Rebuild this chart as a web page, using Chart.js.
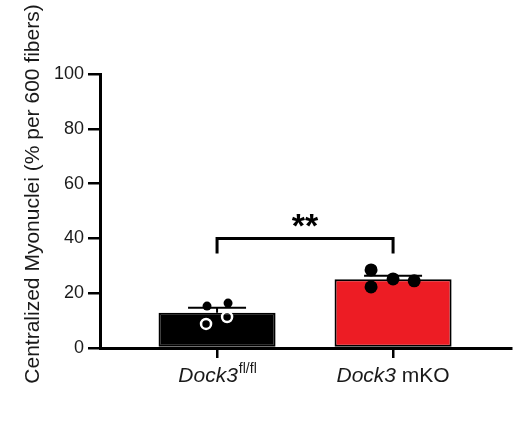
<!DOCTYPE html>
<html>
<head>
<meta charset="utf-8">
<script src="https://cdn.jsdelivr.net/npm/chart.js@4/dist/chart.umd.min.js"></script>
<style>
  body { margin: 0; background: #fff; }
  #wrap { width: 522px; height: 422px; }
</style>
</head>
<body>
<div id="wrap"><canvas id="chart" width="522" height="422"></canvas></div>
<script>
// groupes et valeurs
const GROUP_POS = [1, 2];
const GROUP_MEANS = [12.9, 25.1];
const GROUP_SEM = [1.8, 1.3];
const BAR_COLORS = ['#000000', '#ED1C24'];

// points individuels (position x autour du centre du groupe)
const WT_FILLED_X = [0.943, 1.0625];
const WT_FILLED_Y = [15.3, 16.4];
const WT_OPEN_X = [0.9375, 1.057];
const WT_OPEN_Y = [8.8, 11.3];
const KO_X = [1.875, 1.875, 2.0, 2.12];
const KO_Y = [28.5, 22.3, 25.2, 24.5];

const Y_TICKS = [0, 20, 40, 60, 80, 100];
const SIG_LEVEL = 40;
const SIG_TEXT = '**';
const Y_TITLE = 'Centralized Myonuclei (% per 600 fibers)';

const FONT = '"Liberation Sans", Arial, Helvetica, sans-serif';

function pts(xs, ys) {
    return xs.map((x, i) => ({ x: x, y: ys[i] }));
}

// barres d'erreur, accolade de significativité, étiquettes
const decorPlugin = {
    id: 'decor',
    afterDatasetDraw(chart, args) {
        if (args.index !== 0) return;
        const ctx = chart.ctx;
        const xs = chart.scales.x, ys = chart.scales.y;
        ctx.save();
        ctx.strokeStyle = '#000';
        ctx.lineWidth = 2;
        GROUP_POS.forEach((g, i) => {
            const cx = xs.getPixelForValue(g);
            const top = ys.getPixelForValue(GROUP_MEANS[i] + GROUP_SEM[i]);
            const mid = ys.getPixelForValue(GROUP_MEANS[i]);
            ctx.beginPath();
            ctx.moveTo(cx, mid);
            ctx.lineTo(cx, top);
            ctx.moveTo(cx - 29, top);
            ctx.lineTo(cx + 29, top);
            ctx.stroke();
        });
        ctx.restore();
    },
    afterDraw(chart) {
        const ctx = chart.ctx;
        const xs = chart.scales.x, ys = chart.scales.y;
        ctx.save();
        // accolade
        const x1 = xs.getPixelForValue(GROUP_POS[0]);
        const x2 = xs.getPixelForValue(GROUP_POS[1]);
        const yb = ys.getPixelForValue(SIG_LEVEL);
        ctx.strokeStyle = '#000';
        ctx.lineWidth = 3;
        ctx.lineJoin = 'miter';
        ctx.beginPath();
        ctx.moveTo(x1, yb + 15);
        ctx.lineTo(x1, yb);
        ctx.lineTo(x2, yb);
        ctx.lineTo(x2, yb + 15);
        ctx.stroke();
        ctx.fillStyle = '#000';
        ctx.font = 'bold 34px ' + FONT;
        ctx.textAlign = 'center';
        ctx.textBaseline = 'alphabetic';
        ctx.fillText(SIG_TEXT, (x1 + x2) / 2, yb - 1);

        // étiquettes de l'axe x
        const base = 382;
        ctx.fillStyle = '#1a1a1a';
        ctx.textAlign = 'left';
        // Dock3 fl/fl
        ctx.font = 'italic 21px ' + FONT;
        const w1 = ctx.measureText('Dock3').width;
        ctx.font = '14px ' + FONT;
        const w2 = ctx.measureText('fl/fl').width;
        let sx = x1 - (w1 + w2) / 2;
        ctx.font = 'italic 21px ' + FONT;
        ctx.fillText('Dock3', sx, base);
        ctx.font = '14px ' + FONT;
        ctx.fillText('fl/fl', sx + w1 + 1, base - 9);
        // Dock3 mKO
        ctx.font = 'italic 21px ' + FONT;
        const w3 = ctx.measureText('Dock3').width;
        ctx.font = '21px ' + FONT;
        const w4 = ctx.measureText(' mKO').width;
        sx = x2 - (w3 + w4) / 2;
        ctx.font = 'italic 21px ' + FONT;
        ctx.fillText('Dock3', sx, base);
        ctx.font = '21px ' + FONT;
        ctx.fillText(' mKO', sx + w3, base);

        // titre de l'axe y
        ctx.translate(33, 194);
        ctx.rotate(-Math.PI / 2);
        ctx.textAlign = 'center';
        ctx.textBaseline = 'middle';
        ctx.font = '21px ' + FONT;
        ctx.fillText(Y_TITLE, 0, 0);
        ctx.restore();
    }
};

const ctx = document.getElementById('chart').getContext('2d');
new Chart(ctx, {
    data: {
        datasets: [
            {
                type: 'bar',
                data: pts(GROUP_POS, GROUP_MEANS),
                backgroundColor: BAR_COLORS,
                borderColor: '#000',
                borderWidth: 2,
                borderSkipped: false,
                barPercentage: 0.665,
                categoryPercentage: 1,
                order: 3
            },
            {
                type: 'scatter',
                data: pts(WT_FILLED_X, WT_FILLED_Y),
                pointRadius: 4.5,
                pointBackgroundColor: '#000',
                pointBorderColor: '#000',
                pointBorderWidth: 0,
                order: 1
            },
            {
                type: 'scatter',
                data: pts(WT_OPEN_X, WT_OPEN_Y),
                pointRadius: 5,
                pointBackgroundColor: 'rgba(0,0,0,0)',
                pointBorderColor: '#fff',
                pointBorderWidth: 2.5,
                order: 1
            },
            {
                type: 'scatter',
                data: pts(KO_X, KO_Y),
                pointRadius: 6.5,
                pointBackgroundColor: '#000',
                pointBorderColor: '#000',
                pointBorderWidth: 0,
                order: 1
            }
        ]
    },
    options: {
        responsive: false,
        animation: false,
        layout: { padding: { left: 0, top: 74, right: 11, bottom: 74 } },
        plugins: {
            legend: { display: false },
            tooltip: { enabled: false }
        },
        scales: {
            x: {
                type: 'linear',
                min: 0.335,
                max: 2.67,
                offset: false,
                afterBuildTicks: s => { s.ticks = GROUP_POS.map(v => ({ value: v })); },
                afterFit: s => { s.height = 0; },
                ticks: { callback: () => '' },
                grid: { offset: false, drawOnChartArea: false, drawTicks: true, tickLength: 10, color: '#000', lineWidth: 2.5 },
                border: { color: '#000', width: 3 }
            },
            y: {
                min: 0,
                max: 100,
                afterBuildTicks: s => { s.ticks = Y_TICKS.map(v => ({ value: v })); },
                afterFit: s => { s.width = 100; },
                ticks: { color: '#1a1a1a', font: { family: FONT, size: 18 }, padding: 4 },
                grid: { drawOnChartArea: false, drawTicks: true, tickLength: 12, color: '#000', lineWidth: 2.5 },
                border: { color: '#000', width: 3 }
            }
        }
    },
    plugins: [decorPlugin]
});
</script>
</body>
</html>
